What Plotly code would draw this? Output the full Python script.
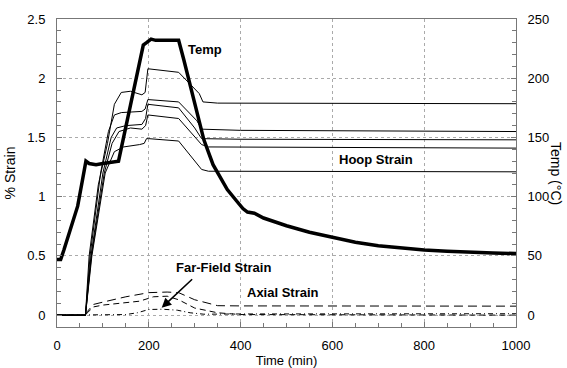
import plotly.graph_objects as go

# ---------------- data ----------------
temp_time = [0, 8, 15, 25, 35, 45, 55, 63, 70, 85, 100, 120, 134, 160, 188, 195, 205, 215, 230, 250, 265,
             276, 300, 320, 340, 360, 371, 390, 405, 415, 430, 450, 500, 550, 600, 650, 700, 750, 800,
             850, 900, 950, 1000]
temp_c = [47, 47, 55, 68, 79, 92, 113, 130, 128, 127, 128, 129, 130, 177, 228, 230, 233, 232, 232, 232, 232,
          216, 180, 148, 127, 113, 106, 97, 90, 87, 86, 82, 75.5, 70, 65.5, 61.5, 58.5, 56.5, 55,
          54, 53, 52.5, 52]

hoop_a_t = [0, 62, 70, 90, 110, 125, 140, 160, 185, 192, 198, 265, 290, 310, 318, 350, 1000]
hoop_a = [0, 0, 0.5, 1.1, 1.45, 1.78, 1.88, 1.89, 1.86, 1.88, 2.08, 2.05, 1.95, 1.87, 1.80, 1.79, 1.785]

hoop_b_t = [0, 62, 72, 95, 112, 125, 140, 185, 192, 198, 265, 305, 315, 400, 1000]
hoop_b = [0, 0, 0.5, 1.2, 1.55, 1.69, 1.71, 1.72, 1.74, 1.82, 1.80, 1.64, 1.57, 1.56, 1.55]

hoop_c_t = [0, 62, 74, 100, 118, 130, 150, 185, 193, 198, 265, 300, 315, 400, 1000]
hoop_c = [0, 0, 0.5, 1.2, 1.5, 1.58, 1.60, 1.61, 1.66, 1.78, 1.75, 1.58, 1.49, 1.485, 1.48]

hoop_d_t = [0, 62, 75, 103, 120, 135, 160, 185, 193, 198, 265, 315, 330, 1000]
hoop_d = [0, 0, 0.5, 1.2, 1.45, 1.55, 1.58, 1.57, 1.60, 1.69, 1.66, 1.44, 1.42, 1.41]

hoop_e_t = [0, 62, 76, 105, 125, 145, 180, 190, 195, 200, 265, 305, 315, 330, 1000]
hoop_e = [0, 0, 0.5, 1.2, 1.38, 1.42, 1.44, 1.45, 1.49, 1.49, 1.47, 1.28, 1.23, 1.215, 1.21]

axial_a_t = [0, 62, 66, 79, 100, 150, 200, 240, 265, 300, 350, 400, 1000]
axial_a = [0, 0, 0.03, 0.09, 0.11, 0.155, 0.19, 0.195, 0.19, 0.13, 0.08, 0.078, 0.076]

axial_b_t = [0, 62, 66, 80, 100, 150, 180, 210, 240, 265, 300, 350, 400, 1000]
axial_b = [0, 0, 0.02, 0.07, 0.085, 0.105, 0.118, 0.155, 0.16, 0.13, 0.06, 0.02, 0.005, 0.0]

farfield_t = [0, 150, 175, 200, 230, 262, 290, 320, 400, 1000]
farfield = [0, 0.005, 0.02, 0.048, 0.05, 0.042, 0.02, 0.008, 0.01, 0.012]

x_ticks = [0, 200, 400, 600, 800, 1000]
y_ticks = [0, 0.5, 1, 1.5, 2, 2.5]
y_tick_text = ["0", "0.5", "1", "1.5", "2", "2.5"]
y2_ticks = [0, 50, 100, 150, 200, 250]

# ---------------- figure ----------------
FONT = "Liberation Sans, Arial, sans-serif"
fig = go.Figure()

for tt, vv in [(hoop_a_t, hoop_a), (hoop_b_t, hoop_b), (hoop_c_t, hoop_c),
               (hoop_d_t, hoop_d), (hoop_e_t, hoop_e)]:
    fig.add_trace(go.Scatter(x=tt, y=vv, mode="lines",
                             line=dict(color="black", width=1), showlegend=False))

fig.add_trace(go.Scatter(x=axial_a_t, y=axial_a, mode="lines",
                         line=dict(color="black", width=1, dash="9px,5px"), showlegend=False))
fig.add_trace(go.Scatter(x=axial_b_t, y=axial_b, mode="lines",
                         line=dict(color="black", width=1, dash="6px,4px"), showlegend=False))
fig.add_trace(go.Scatter(x=farfield_t, y=farfield, mode="lines",
                         line=dict(color="black", width=1, dash="5px,3px,1px,3px"), showlegend=False))

fig.add_trace(go.Scatter(x=temp_time, y=temp_c, mode="lines", yaxis="y2",
                         line=dict(color="black", width=3.5), showlegend=False))

axis_col = "#777"
grid_col = "#aaa"
fig.update_layout(
    width=567, height=368,
    margin=dict(l=57, r=51, t=19, b=41, autoexpand=False),
    paper_bgcolor="white", plot_bgcolor="white",
    font=dict(family=FONT, size=13, color="black"),
    xaxis=dict(range=[0, 1000], tickvals=x_ticks, ticks="inside", ticklen=5, tickcolor=axis_col,
               showline=True, linecolor=axis_col, linewidth=1, mirror=True, automargin=False,
               showgrid=True, gridcolor=grid_col, griddash="dot", gridwidth=1,
               minor=dict(dtick=50, ticks="inside", ticklen=4, tickcolor=axis_col, showgrid=False),
               zeroline=False, ticklabelstandoff=6,
               title=dict(text="Time (min)", font=dict(size=13), standoff=4)),
    yaxis=dict(range=[-0.1, 2.5], tickvals=y_ticks, ticktext=y_tick_text, ticks="inside", ticklen=5,
               tickcolor=axis_col, showline=True, linecolor=axis_col, linewidth=1, automargin=False,
               showgrid=True, gridcolor=grid_col, griddash="dot", gridwidth=1,
               minor=dict(dtick=0.1, tick0=0, ticks="inside", ticklen=4, tickcolor=axis_col, showgrid=False),
               zeroline=False, ticklabelstandoff=8,
               title=dict(text="% Strain", font=dict(size=14), standoff=8)),
    yaxis2=dict(range=[-10, 250], tickvals=y2_ticks, overlaying="y", side="right", ticks="inside",
                ticklen=5, tickcolor=axis_col, showline=True, linecolor=axis_col, linewidth=1,
                showgrid=False, zeroline=False, ticklabelstandoff=8, automargin=False,
                minor=dict(dtick=10, tick0=0, ticks="inside", ticklen=4, tickcolor=axis_col)),
)

bold = dict(family=FONT, size=13, color="black")
fig.add_annotation(x=280, y=2.24, xref="x", yref="y", text="<b>Temp</b>", showarrow=False,
                   xanchor="left", yanchor="middle", font=bold)
fig.add_annotation(x=610, y=1.317, xref="x", yref="y", text="<b>Hoop Strain</b>", showarrow=False,
                   xanchor="left", yanchor="middle", font=bold)
fig.add_annotation(x=409, y=0.194, xref="x", yref="y", text="<b>Axial Strain</b>", showarrow=False,
                   xanchor="left", yanchor="middle", font=bold)
fig.add_annotation(x=254, y=0.40, xref="x", yref="y", text="<b>Far-Field Strain</b>", showarrow=False,
                   xanchor="left", yanchor="middle", font=bold)
fig.add_annotation(x=228, y=0.062, xref="x", yref="y", text="", showarrow=True,
                   ax=32, ay=-30, axref="pixel", ayref="pixel",
                   arrowhead=2, arrowsize=1.2, arrowwidth=1.6, arrowcolor="black")
fig.add_annotation(x=1.0, xref="paper", xshift=40, y=0.5, yref="paper", text="Temp (°C)",
                   textangle=90, showarrow=False, xanchor="center", yanchor="middle",
                   font=dict(family=FONT, size=14, color="black"))

fig.write_html("out.html", config={"displayModeBar": False},
               post_script="document.body.style.margin='0';document.body.style.overflow='hidden';")
